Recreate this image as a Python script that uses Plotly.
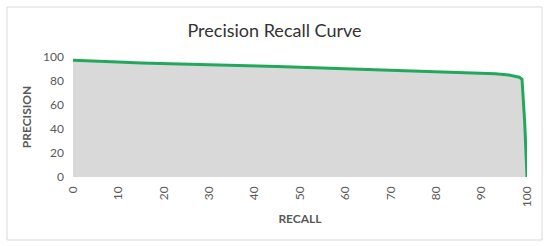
import plotly.graph_objects as go

recall = [0, 5, 10, 15, 20, 25, 30, 35, 40, 45, 50, 55, 60, 65, 70, 75, 80, 85, 90, 93, 96, 97.5, 98.3, 98.9, 99.5, 100]
precision = [97.3, 96.8, 95.8, 95.0, 94.4, 93.9, 93.5, 93.0, 92.5, 92.0, 91.5, 90.9, 90.4, 89.8, 89.2, 88.6, 88.0, 87.3, 86.6, 86.0, 85.0, 84.2, 83.2, 81.5, 45.0, 0]
x_ticks = [0, 10, 20, 30, 40, 50, 60, 70, 80, 90, 100]
y_ticks = [0, 20, 40, 60, 80, 100]

FONT = "Lato"
fig = go.Figure()
fig.add_trace(go.Scatter(
    x=recall, y=precision, mode="lines",
    line=dict(color="#22a85c", width=3),
    fill="tozeroy", fillcolor="#d9d9d9",
    hoverinfo="skip", showlegend=False,
))

fig.update_layout(
    width=550, height=246,
    margin=dict(l=73, r=23, t=57, b=69),
    paper_bgcolor="white", plot_bgcolor="white",
    font=dict(family=FONT, color="#595959", size=12),
    title=dict(text="Precision Recall Curve", x=274.5/550, xref="container", xanchor="center",
               y=1 - 31/246, yref="container", yanchor="middle",
               font=dict(family=FONT, size=18, color="#333333")),
    xaxis=dict(range=[0, 100], tickvals=x_ticks, ticktext=[str(v) for v in x_ticks],
               tickangle=-90, showgrid=False, zeroline=False, showline=False,
               ticks="", ticklabelstandoff=6,
               title=dict(text="<b>RECALL</b>", standoff=8, font=dict(size=12, color="#595959"))),
    yaxis=dict(range=[0, 100], tickvals=y_ticks, showgrid=False, zeroline=False,
               showline=False, ticks="", ticklabelstandoff=8,
               title=dict(text="<b>PRECISION</b>", standoff=8, font=dict(size=12, color="#595959"))),
    shapes=[dict(type="rect", xref="paper", yref="paper",
                 x0=(7 - 73) / 454, x1=(542 - 73) / 454,
                 y0=(177 - 240) / 120, y1=(177 - 7) / 120,
                 line=dict(color="#d9d9d9", width=1), fillcolor="rgba(0,0,0,0)", layer="below")],
)

fig.write_html("out.html", config={"displayModeBar": False},
               post_script="document.body.style.margin='0';document.body.style.overflow='hidden';")
